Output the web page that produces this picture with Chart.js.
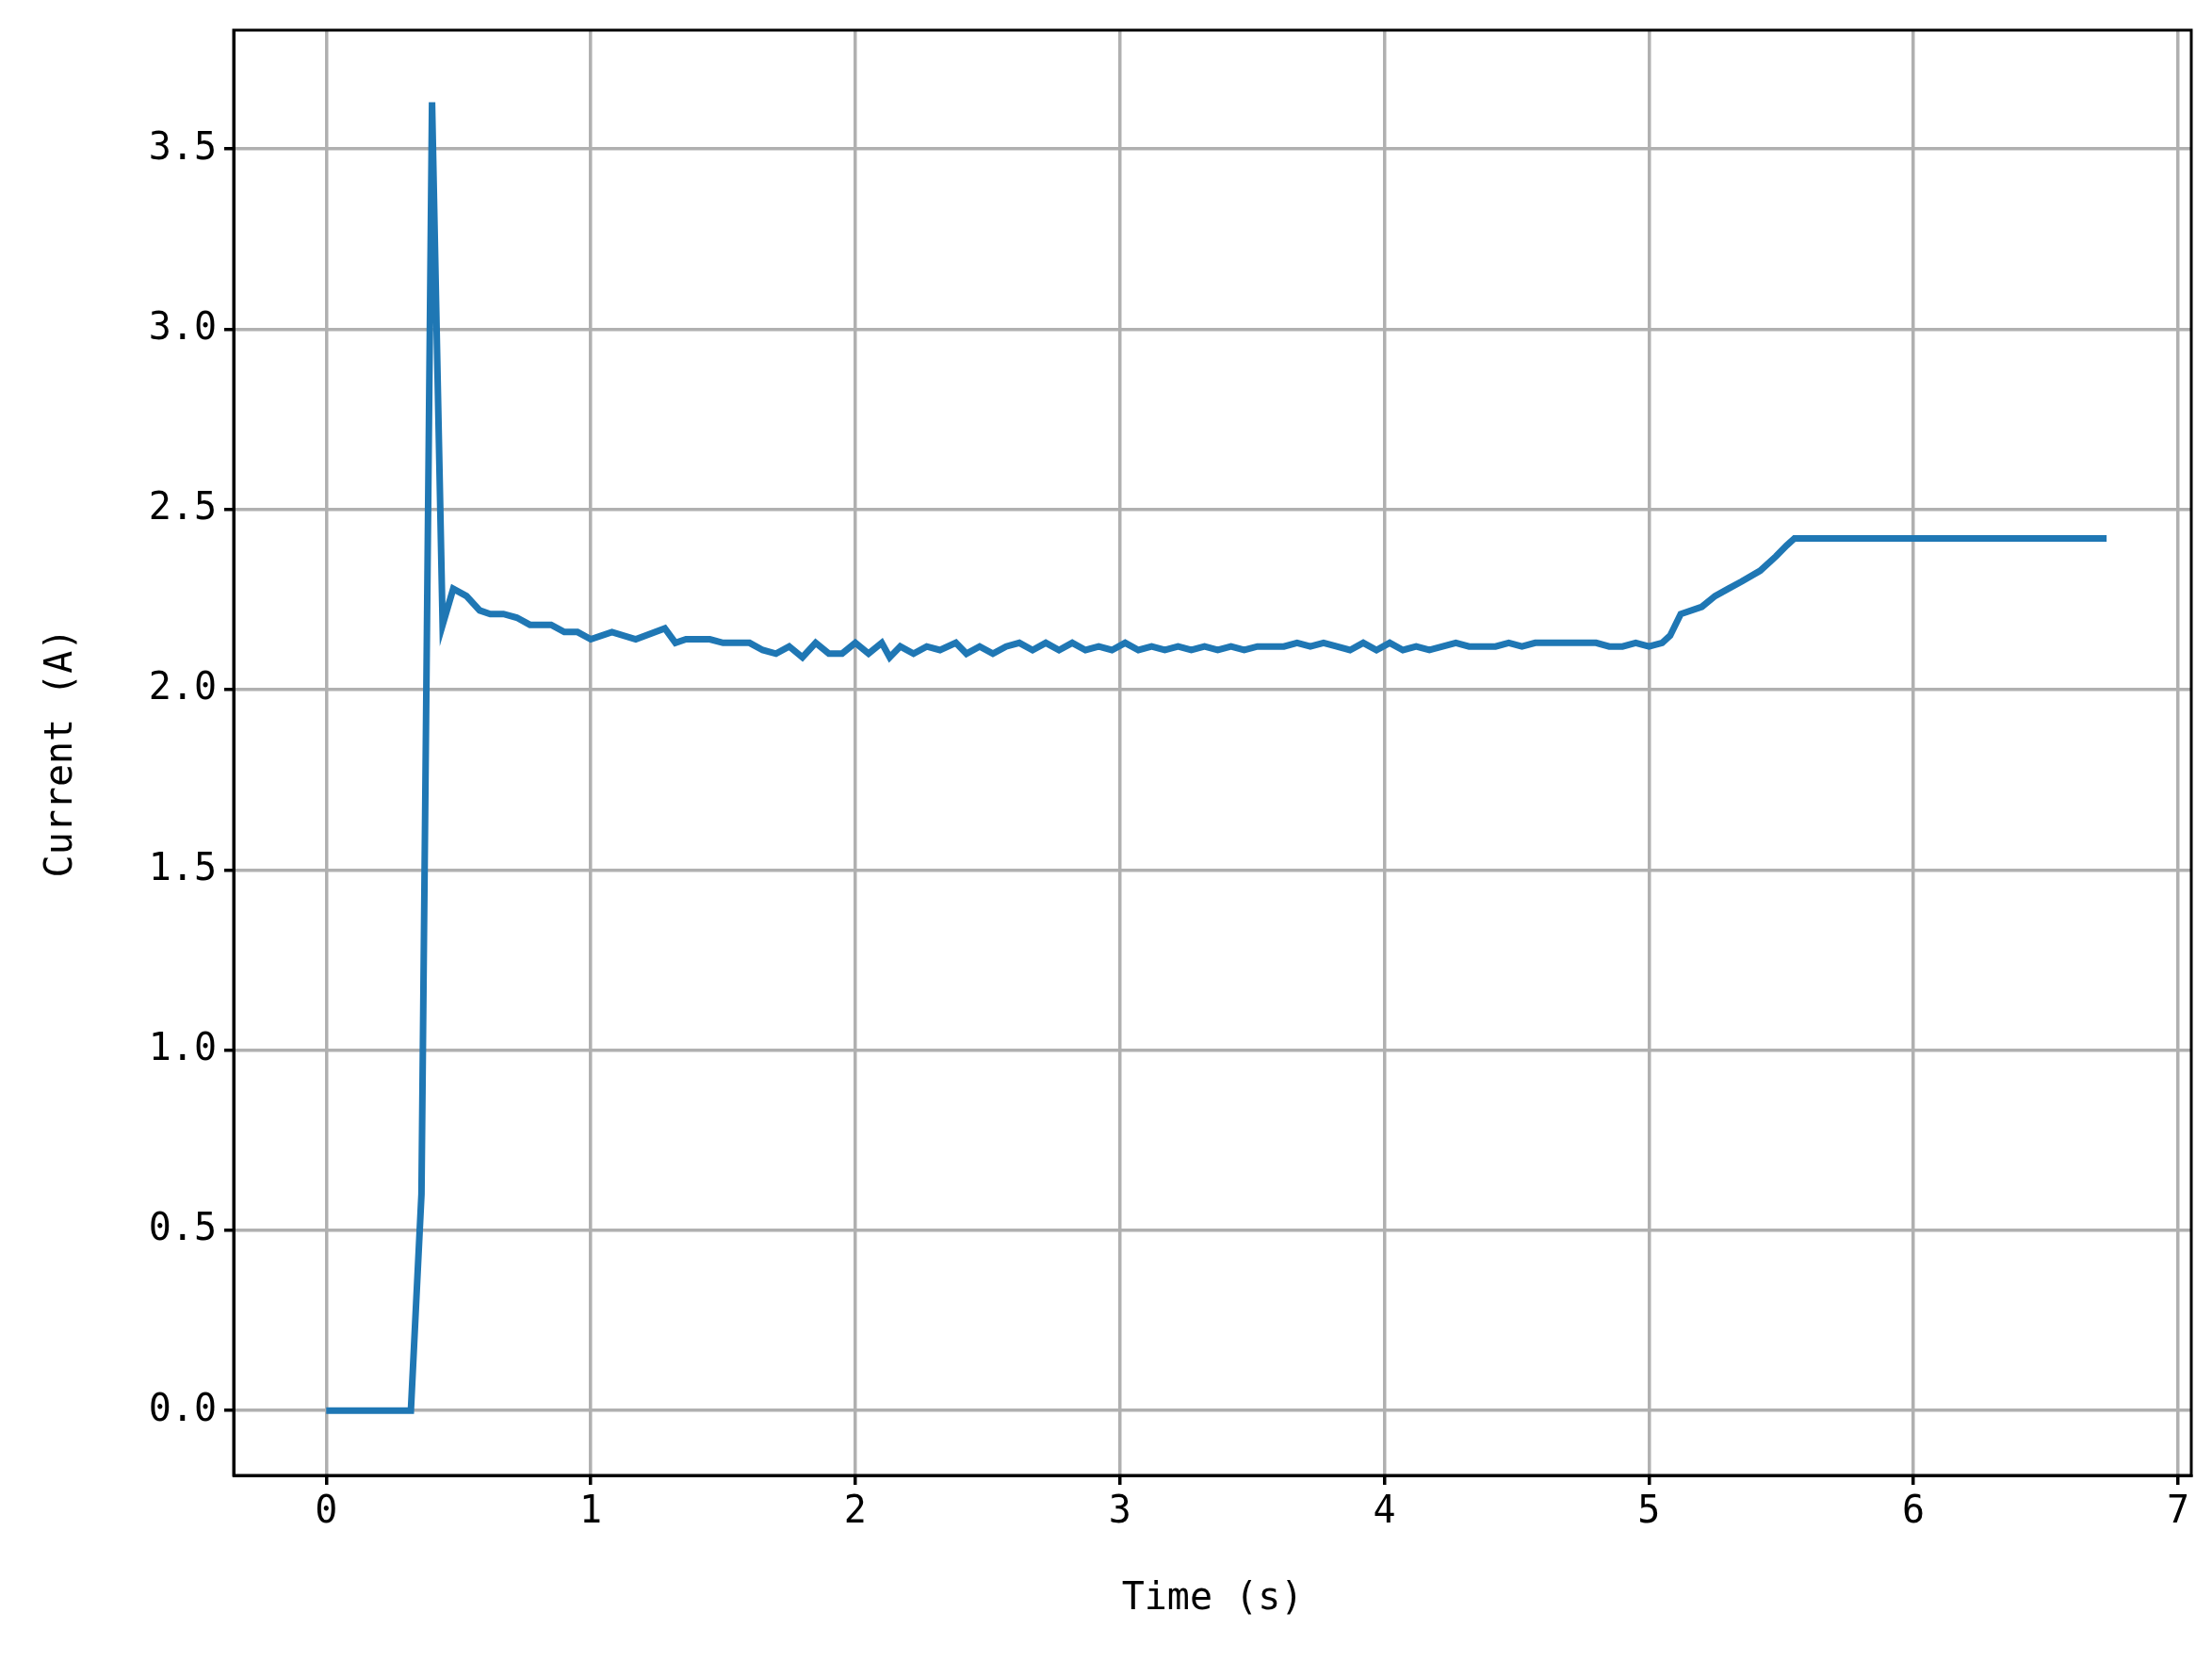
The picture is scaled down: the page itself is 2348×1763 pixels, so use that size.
<!DOCTYPE html>
<html>
<head>
<meta charset="utf-8">
<script src="https://cdn.jsdelivr.net/npm/chart.js@4"></script>
<style>
  html, body { margin: 0; padding: 0; background: #fff; }
  #wrap { width: 2348px; height: 1763px; }
</style>
</head>
<body>
<div id="wrap"><canvas id="chartCurrent"></canvas></div>
<script>
// Current over time
var timeS = [0, 0.32, 0.36, 0.40, 0.44, 0.48, 0.53, 0.58, 0.62, 0.67, 0.72, 0.77, 0.85, 0.9, 0.95, 1.0,
  1.08, 1.17, 1.28, 1.32, 1.36, 1.45, 1.5, 1.6, 1.65, 1.7, 1.75, 1.8, 1.85, 1.9, 1.95, 2.0,
  2.05, 2.1, 2.13, 2.17, 2.22, 2.27, 2.32, 2.38, 2.42, 2.47, 2.52, 2.57, 2.62, 2.67, 2.72,
  2.77, 2.82, 2.87, 2.92, 2.97, 3.02, 3.07, 3.12, 3.17, 3.22, 3.27, 3.32, 3.37, 3.42, 3.47,
  3.52, 3.57, 3.62, 3.67, 3.72, 3.77, 3.82, 3.87, 3.92, 3.97, 4.02, 4.07, 4.12, 4.17, 4.22,
  4.27, 4.32, 4.37, 4.42, 4.47, 4.52, 4.57, 4.62, 4.7, 4.8, 4.85, 4.9, 4.95, 5.0, 5.05, 5.08,
  5.12, 5.2, 5.25, 5.3, 5.35, 5.42, 5.48, 5.52, 5.55, 6.73];
var currentA = [0, 0, 0.6, 3.63, 2.18, 2.28, 2.26, 2.22, 2.21, 2.21, 2.2, 2.18, 2.18, 2.16, 2.16, 2.14,
  2.16, 2.14, 2.17, 2.13, 2.14, 2.14, 2.13, 2.13, 2.11, 2.1, 2.12, 2.09, 2.13, 2.1, 2.1, 2.13,
  2.1, 2.13, 2.09, 2.12, 2.1, 2.12, 2.11, 2.13, 2.1, 2.12, 2.1, 2.12, 2.13, 2.11, 2.13,
  2.11, 2.13, 2.11, 2.12, 2.11, 2.13, 2.11, 2.12, 2.11, 2.12, 2.11, 2.12, 2.11, 2.12, 2.11,
  2.12, 2.12, 2.12, 2.13, 2.12, 2.13, 2.12, 2.11, 2.13, 2.11, 2.13, 2.11, 2.12, 2.11, 2.12,
  2.13, 2.12, 2.12, 2.12, 2.13, 2.12, 2.13, 2.13, 2.13, 2.13, 2.12, 2.12, 2.13, 2.12, 2.13, 2.15,
  2.21, 2.23, 2.26, 2.28, 2.30, 2.33, 2.37, 2.40, 2.42, 2.42];
var xTicks = [0, 1, 2, 3, 4, 5, 6, 7];
var yTicks = [0, 0.5, 1, 1.5, 2, 2.5, 3, 3.5];

var points = timeS.map(function (t, i) { return { x: t, y: currentA[i] }; });
var FONT = '"DejaVu Sans Mono", "Liberation Mono", monospace';
var GRID = '#b0b0b0';

new Chart(document.getElementById('chartCurrent'), {
  type: 'line',
  data: {
    datasets: [{
      data: points,
      borderColor: '#1f77b4',
      borderWidth: 7,
      pointRadius: 0,
      tension: 0,
      fill: false
    }]
  },
  options: {
    responsive: true,
    maintainAspectRatio: false,
    animation: false,
    devicePixelRatio: 1,
    layout: { padding: { top: 15, right: 22, left: 38, bottom: 37 } },
    plugins: { legend: { display: false }, tooltip: { enabled: false } },
    scales: {
      x: {
        type: 'linear',
        min: -0.35, max: 7.05,
        afterBuildTicks: function (s) { s.ticks = xTicks.map(function (v) { return { value: v }; }); },
        afterFit: function (s) { s.height = 160; },
        grid: { color: GRID, lineWidth: 3.5, drawTicks: true, tickLength: 10, tickColor: '#000' },
        border: { color: '#000', width: 3 },
        ticks: { color: '#000', font: { family: FONT, size: 40 }, padding: 6, maxRotation: 0 },
        title: { display: true, text: 'Time (s)', color: '#000', font: { family: FONT, size: 40 }, padding: { top: 0 } }
      },
      y: {
        min: -0.18, max: 3.83,
        afterBuildTicks: function (s) { s.ticks = yTicks.map(function (v) { return { value: v }; }); },
        afterFit: function (s) { s.width = 210; },
        grid: { color: GRID, lineWidth: 3.5, drawTicks: true, tickLength: 10, tickColor: '#000' },
        border: { color: '#000', width: 3 },
        ticks: { color: '#000', font: { family: FONT, size: 40 }, padding: 8,
          callback: function (v) { return v.toFixed(1); } },
        title: { display: true, text: 'Current (A)', color: '#000', font: { family: FONT, size: 40 }, padding: { bottom: 10 } }
      }
    }
  },
  plugins: [{
    id: 'frame',
    afterDraw: function (c) {
      var a = c.chartArea, ctx = c.ctx;
      ctx.save();
      ctx.strokeStyle = '#000';
      ctx.lineWidth = 3;
      ctx.strokeRect(a.left, a.top, a.right - a.left, a.bottom - a.top);
      ctx.restore();
    }
  }]
});
</script>
</body>
</html>
